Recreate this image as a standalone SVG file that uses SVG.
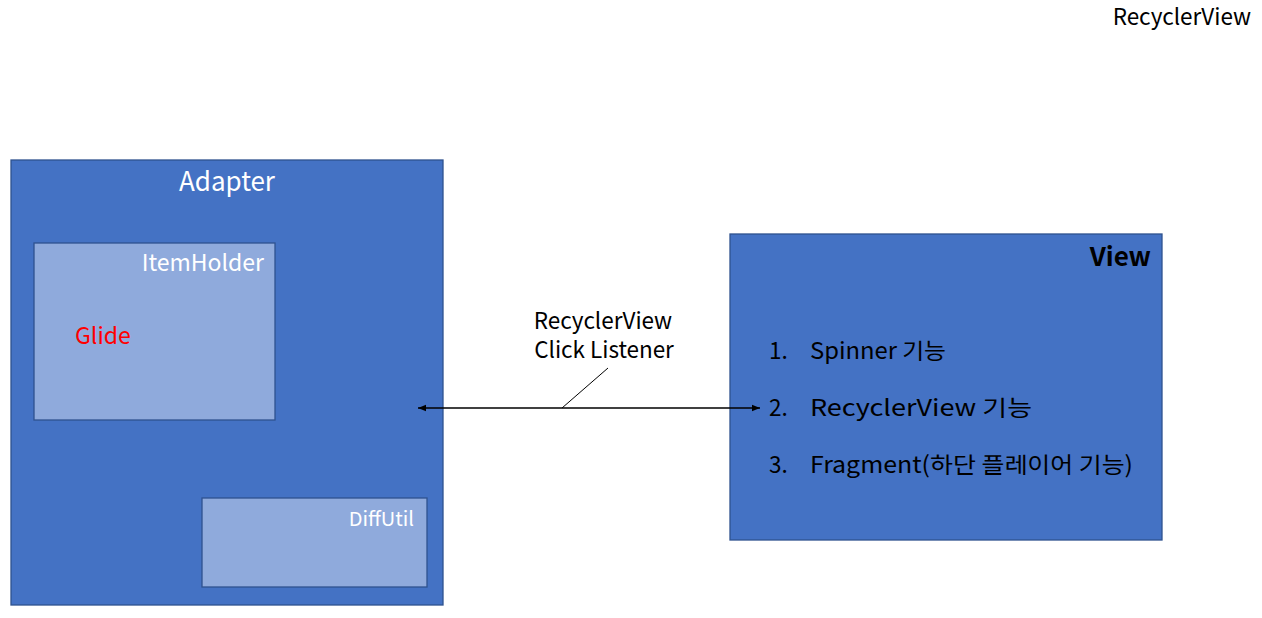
<svg xmlns="http://www.w3.org/2000/svg" width="1262" height="618" viewBox="0 0 1262 618">
<style>
text{font-family:"Noto Sans KR","Noto Sans CJK KR","Noto Sans",sans-serif;}
.big{fill:#4472c4;stroke:#2f528f;stroke-width:1.3;}
.inner{fill:#8faadc;stroke:#2f528f;stroke-width:1.3;}
.w{fill:#ffffff;font-size:23px;}
.k{fill:#000000;font-size:22.5px;}
</style>
<defs>
<marker id="ah" viewBox="0 0 10 10" refX="10" refY="5" markerWidth="8" markerHeight="8" orient="auto-start-reverse" markerUnits="userSpaceOnUse">
<path d="M0,1 L10,5 L0,9 Z" fill="#000"/>
</marker>
</defs>
<rect width="1262" height="618" fill="#fff"/>
<text id="title" x="1251" y="25" text-anchor="end" class="k">RecyclerView</text>
<g id="adapter">
<rect class="big" x="11" y="160" width="432" height="445"/>
<text x="227" y="191" text-anchor="middle" class="w" style="font-size:26px">Adapter</text>
</g>
<g id="itemholder">
<rect class="inner" x="34" y="243" width="241" height="177"/>
<text x="264" y="271" text-anchor="end" class="w">ItemHolder</text>
<text x="75" y="344" fill="#ff0000" style="font-size:23px">Glide</text>
</g>
<g id="diffutil">
<rect class="inner" x="202" y="498" width="225" height="89"/>
<text x="414" y="526" text-anchor="end" class="w" style="font-size:20px">DiffUtil</text>
</g>
<g id="view">
<rect class="big" x="730" y="234" width="432" height="306"/>
<text x="1151" y="266" text-anchor="end" style="font-size:26px;font-weight:bold;fill:#000">View</text>
<text x="769" y="359" class="k">1.</text>
<text x="810" y="359" class="k" textLength="136" lengthAdjust="spacingAndGlyphs">Spinner 기능</text>
<text x="769" y="416" class="k">2.</text>
<text x="810" y="416" class="k" textLength="222" lengthAdjust="spacingAndGlyphs">RecyclerView 기능</text>
<text x="769" y="473" class="k">3.</text>
<text x="810" y="473" class="k" textLength="323" lengthAdjust="spacingAndGlyphs">Fragment(하단 플레이어 기능)</text>
</g>
<g id="connectors">
<line x1="418" y1="408" x2="760" y2="408" stroke="#000" stroke-width="1.3" marker-start="url(#ah)" marker-end="url(#ah)"/>
<line x1="562" y1="408" x2="608" y2="368" stroke="#000" stroke-width="1"/>
<text x="603" y="329" text-anchor="middle" class="k">RecyclerView</text>
<text x="604" y="358" text-anchor="middle" class="k">Click Listener</text>
</g>
</svg>
